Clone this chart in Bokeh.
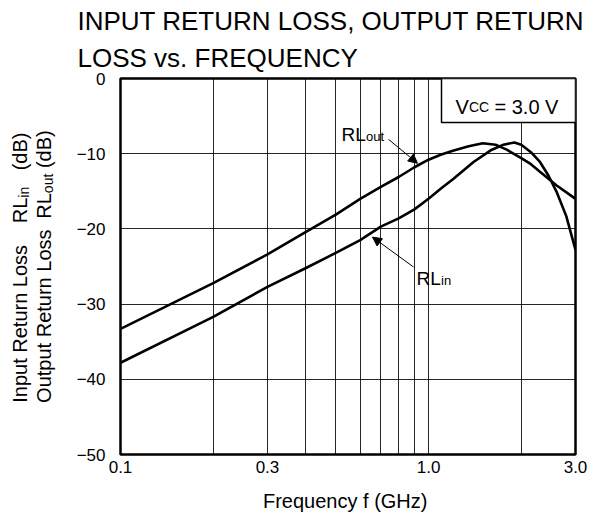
import math
from bokeh.plotting import figure
from bokeh.layouts import row
from bokeh.models import (FixedTicker, Label, Arrow, NormalHead, BoxAnnotation, Title,
                          PrintfTickFormatter, CustomJSTickFormatter)
from bokeh.embed import file_html
from bokeh.resources import INLINE

# ---- data ----
freq_out = [0.1, 0.2, 0.3, 0.4, 0.5, 0.6, 0.7, 0.8, 0.9, 1.0, 1.1, 1.2, 1.35, 1.5,
            1.65, 1.8, 2.0, 2.15, 2.3, 2.6, 3.0]
rl_out = [-33.3, -27.2, -23.4, -20.4, -18.1, -16.0, -14.4, -13.1, -11.8, -10.8, -10.1,
          -9.6, -9.0, -8.6, -8.8, -9.5, -10.6, -11.4, -12.4, -14.2, -16.0]

freq_in = [0.1, 0.2, 0.3, 0.4, 0.5, 0.6, 0.7, 0.8, 0.9, 1.0, 1.1, 1.2, 1.4, 1.6,
           1.75, 1.9, 2.0, 2.15, 2.3, 2.45, 2.6, 2.8, 3.0]
rl_in = [-37.8, -31.7, -27.7, -25.2, -23.2, -21.5, -19.7, -18.6, -17.4, -16.0, -14.6,
         -13.4, -11.1, -9.5, -8.8, -8.5, -8.8, -9.8, -11.1, -12.9, -15.0, -18.3, -22.8]

x_ticks = [0.1, 0.3, 1.0, 3.0]
x_grid = [0.2, 0.3, 0.4, 0.5, 0.6, 0.7, 0.8, 0.9, 1.0, 2.0]
y_ticks = [-50, -40, -30, -20, -10, 0]
y_grid = [-40, -30, -20, -10]

title_lines = ["INPUT RETURN LOSS, OUTPUT RETURN", "LOSS vs. FREQUENCY"]

FONT = "Liberation Sans"

# page geometry (px)
W, H = 599, 514
LW = 64                       # strip on the left holding the rotated y-axis title
FL, FT, FW, FH = 120, 78, 455, 377
XMIN, XMAX, YMIN, YMAX = 0.1, 3.0, -50, 0


# helpers mapping page pixel positions -> data coordinates (annotations inside frame)
def dx(px):
    return 10 ** (math.log10(XMIN) + (px - FL) / FW * (math.log10(XMAX) - math.log10(XMIN)))


def dy(py):
    return YMAX - (py - FT) / FH * (YMAX - YMIN)


p = figure(width=W - LW, height=H, x_axis_type="log", x_range=(XMIN, XMAX),
           y_range=(YMIN, YMAX), output_backend="svg", toolbar_location=None,
           min_border_left=FL - LW, min_border_right=W - FL - FW,
           min_border_top=FT, min_border_bottom=H - FT - FH)
p.background_fill_color = "white"
p.border_fill_color = "white"
p.outline_line_color = "black"
p.outline_line_width = 2.5

# title (two lines, added from the frame outward)
p.add_layout(Title(text=title_lines[1], align="left", offset=-(FL - 77), standoff=11,
                   text_font=FONT, text_font_size="26px", text_font_style="normal",
                   text_color="black"), "above")
p.add_layout(Title(text=title_lines[0], align="left", offset=-(FL - 77), standoff=0,
                   text_font=FONT, text_font_size="26px", text_font_style="normal",
                   text_color="black"), "above")

# grids
p.xgrid.ticker = FixedTicker(ticks=x_grid)
p.ygrid.ticker = FixedTicker(ticks=y_grid)
for g in (p.xgrid, p.ygrid):
    g.grid_line_color = "black"
    g.grid_line_width = 1
    g.grid_line_alpha = 0.85

# axes
for ax in (p.xaxis, p.yaxis):
    ax.axis_line_color = None
    ax.major_tick_line_color = None
    ax.minor_tick_line_color = None
    ax.major_tick_out = 0
    ax.major_tick_in = 0
    ax.major_label_text_font = FONT
    ax.major_label_text_font_size = "17px"
    ax.major_label_text_color = "black"
p.xaxis.ticker = FixedTicker(ticks=x_ticks)
p.xaxis.formatter = PrintfTickFormatter(format="%.1f")
p.xaxis.major_label_standoff = 6
p.xaxis.axis_label = "Frequency  f (GHz)"
p.xaxis.axis_label_text_font = FONT
p.xaxis.axis_label_text_font_size = "20px"
p.xaxis.axis_label_text_font_style = "normal"
p.xaxis.axis_label_text_color = "black"
p.xaxis.axis_label_standoff = 14
p.yaxis.ticker = FixedTicker(ticks=y_ticks)
p.yaxis.formatter = CustomJSTickFormatter(
    code="return tick < 0 ? '\u2212' + Math.abs(tick) : tick.toString();")
p.yaxis.major_label_standoff = 15

# curves
p.line(freq_out, rl_out, line_color="black", line_width=2.6)
p.line(freq_in, rl_in, line_color="black", line_width=2.6)


def lab(px, py, text, size):
    p.add_layout(Label(x=dx(px), y=dy(py), text=text, text_font=FONT,
                       text_font_size=f"{size}px", text_color="black",
                       text_baseline="alphabetic", text_align="left"))


# Vcc box
p.add_layout(BoxAnnotation(left=dx(441), right=XMAX, bottom=dy(122), top=YMAX,
                           fill_color="white", fill_alpha=1.0,
                           line_color="black", line_alpha=1.0, line_width=1.5))
lab(455, 107, "V", 20)
lab(468.5, 107, "CC", 14)
lab(494, 107, "= 3.0 V", 20)

# curve labels
lab(341, 134, "RL", 19)
lab(365.5, 136, "out", 13)
lab(416, 279, "RL", 19)
lab(440.5, 281, "in", 13)

head = dict(size=9, fill_color="black", line_color="black", line_width=1)
p.add_layout(Arrow(end=NormalHead(**head), x_start=dx(388), y_start=dy(139),
                   x_end=dx(417), y_end=dy(163), line_width=1, line_color="black"))
p.add_layout(Arrow(end=NormalHead(**head), x_start=dx(413), y_start=dy(267),
                   x_end=dx(372), y_end=dy(237), line_width=1, line_color="black"))

# ---- left strip: rotated two-line y-axis title with subscripts ----
# its frame is aligned with the main frame (rows share top/bottom borders),
# so its y range is chosen to make data y == page height - page y.
s = figure(width=LW, height=H, x_range=(0, LW), y_range=(H - FT - FH, H - FT),
           output_backend="svg", toolbar_location=None,
           x_axis_location=None, y_axis_location=None,
           min_border_left=0, min_border_right=0,
           min_border_top=FT, min_border_bottom=H - FT - FH)
s.outline_line_color = None
s.background_fill_color = "white"
s.border_fill_color = "white"
s.grid.visible = False

A = math.pi / 2


def ylab(cx, cy, text, size):
    # each piece is centred on (cx, cy) so rotation cannot shift it
    s.add_layout(Label(x=cx, y=H - cy, text=text, text_font=FONT,
                       text_font_size=f"{size}px", text_color="black",
                       text_baseline="middle", text_align="center",
                       angle=A, angle_units="rad"))


# line 1 (baseline near x=26)
ylab(19.1, 324.0, "Input Return Loss", 20)
ylab(19.1, 210.3, "RL", 20)
ylab(23.2, 192.0, "in", 14)
ylab(19.1, 151.1, "(dB)", 20)
# line 2 (baseline near x=50)
ylab(43.1, 316.3, "Output Return Loss", 20)
ylab(43.1, 205.7, "RL", 20)
ylab(47.2, 183.2, "out", 14)
ylab(43.1, 148.9, "(dB)", 20)

layout = row(s, p, spacing=0)
open("out.html", "w").write(file_html(layout, INLINE))
